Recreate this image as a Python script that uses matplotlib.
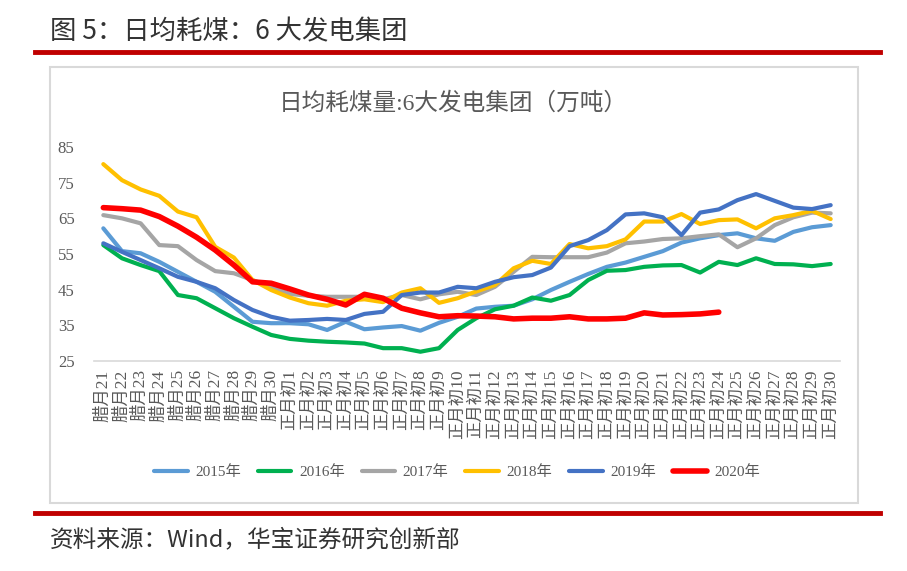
import matplotlib
matplotlib.use("Agg")
import matplotlib.pyplot as plt
from matplotlib.lines import Line2D
from matplotlib.patches import Rectangle

# Categories: 腊月21..腊月30, 正月初1..正月初30
days = [f"腊月{d}" for d in range(21, 31)] + [f"正月初{d}" for d in range(1, 31)]

y2015 = [62.2, 55.8, 55.2, 52.8, 50.0, 47.2, 44.4, 40.2, 36.0, 35.6,
         35.6, 35.3, 33.7, 36.0, 33.9, 34.4, 34.8, 33.5, 35.7, 37.4,
         39.7, 40.2, 40.5, 42.3, 44.9, 47.2, 49.4, 51.4, 52.6, 54.2,
         55.8, 58.2, 59.4, 60.3, 60.8, 59.4, 58.7, 61.2, 62.5, 63.1]
y2016 = [57.5, 53.8, 51.9, 50.2, 43.5, 42.6, 39.8, 37.0, 34.6, 32.3,
         31.2, 30.7, 30.4, 30.2, 29.9, 28.6, 28.6, 27.6, 28.6, 33.7,
         37.0, 39.5, 40.5, 42.8, 41.9, 43.5, 47.7, 50.3, 50.5, 51.4,
         51.8, 51.9, 49.8, 52.8, 51.9, 53.8, 52.2, 52.1, 51.6, 52.2]
y2017 = [65.9, 65.0, 63.6, 57.5, 57.2, 53.3, 50.2, 49.6, 47.7, 45.8,
         43.8, 43.3, 43.0, 43.0, 43.0, 42.3, 43.5, 42.3, 43.7, 44.4,
         43.5, 45.8, 50.0, 54.2, 54.1, 54.1, 54.1, 55.4, 58.0, 58.5,
         59.2, 59.4, 60.0, 60.5, 56.9, 59.4, 63.1, 65.3, 66.6, 66.4]
y2018 = [80.2, 75.7, 73.1, 71.3, 66.9, 65.3, 57.0, 54.0, 47.7, 44.9,
         42.8, 41.2, 40.5, 41.9, 42.3, 41.5, 44.2, 45.4, 41.3, 42.6,
         44.5, 46.3, 51.0, 53.1, 52.2, 57.8, 56.6, 57.2, 59.1, 64.1,
         64.1, 66.2, 63.4, 64.5, 64.7, 62.2, 65.0, 65.9, 67.1, 64.8]
y2019 = [58.0, 55.6, 53.3, 51.0, 48.6, 47.2, 45.4, 42.1, 39.3, 37.4,
         36.3, 36.5, 36.8, 36.5, 38.2, 38.8, 43.5, 44.2, 44.2, 45.8,
         45.4, 47.2, 48.5, 49.1, 51.2, 57.2, 58.9, 61.7, 66.1, 66.4,
         65.3, 60.3, 66.6, 67.5, 70.1, 71.8, 69.9, 68.0, 67.6, 68.7]
y2020 = [68.0, 67.7, 67.3, 65.5, 62.8, 59.7, 56.1, 51.9, 47.2, 46.8,
         45.2, 43.5, 42.3, 40.7, 43.7, 42.6, 39.8, 38.5, 37.4, 37.7,
         37.6, 37.4, 36.8, 37.0, 37.0, 37.4, 36.8, 36.8, 37.0, 38.5,
         37.9, 38.0, 38.2, 38.7]

series = [
    ("2015年", y2015, "#5B9BD5", 3.0),
    ("2016年", y2016, "#00B050", 3.0),
    ("2017年", y2017, "#A5A5A5", 3.0),
    ("2018年", y2018, "#FFC000", 3.0),
    ("2019年", y2019, "#4472C4", 3.0),
    ("2020年", y2020, "#FF0000", 4.0),
]

cjk = ["Noto Sans CJK SC", "DejaVu Sans"]
serif_cjk = ["Liberation Serif", "Noto Sans CJK SC"]
txt = "#595959"

fig = plt.figure(figsize=(9.07, 5.71), dpi=100)
W, H = 907, 571

# header, footer and frame
fig.text(50 / W, 1 - 32 / H, "图 5：日均耗煤：6 大发电集团", family=cjk,
         fontsize=19, color="#333333", ha="left", va="center")
fig.add_artist(Line2D([35 / W, 880 / W], [1 - 52 / H, 1 - 52 / H],
                      color="#C00000", lw=3.5, transform=fig.transFigure))
fig.add_artist(Line2D([35 / W, 880 / W], [1 - 513 / H, 1 - 513 / H],
                      color="#C00000", lw=3.5, transform=fig.transFigure))
fig.add_artist(Rectangle((50 / W, 1 - 503 / H), 808 / W, 436 / H, fill=False,
                         ec="#D9D9D9", lw=1.5, transform=fig.transFigure))
fig.text(50 / W, 1 - 540 / H, "资料来源：Wind，华宝证券研究创新部", family=cjk,
         fontsize=17, color="#333333", ha="left", va="center")

# chart title
fig.text(453 / W, 1 - 103 / H, "日均耗煤量:6大发电集团（万吨）", family=serif_cjk,
         fontsize=17, color=txt, ha="center", va="center")

ax = fig.add_axes([94 / W, 1 - 361 / H, 746 / W, 214 / H])
x = list(range(len(days)))
handles = []
for name, vals, col, lw in series:
    h, = ax.plot(x[:len(vals)], vals, color=col, lw=lw, label=name,
                 solid_capstyle="round", solid_joinstyle="round")
    handles.append(h)

ax.set_xlim(-0.5, len(days) - 0.5)
ax.set_ylim(25, 85)
ax.set_yticks(range(25, 86, 10))
ax.set_xticks(x)
ax.set_xticklabels(days, rotation=90, va="top", ha="center")
for lab in ax.get_xticklabels():
    lab.set_family(serif_cjk)
    lab.set_fontsize(12.5)
    lab.set_color(txt)
for lab in ax.get_yticklabels():
    lab.set_family("Liberation Serif")
    lab.set_fontsize(12)
    lab.set_color(txt)
ax.tick_params(length=0, pad=6)
ax.tick_params(axis="y", pad=14)
for s in ["top", "right", "left"]:
    ax.spines[s].set_visible(False)
ax.spines["bottom"].set_color("#D9D9D9")
ax.spines["bottom"].set_linewidth(1.2)

fig.legend(handles=handles, loc="center", bbox_to_anchor=(457 / W, 1 - 472 / H),
           ncol=6, frameon=False, prop={"family": serif_cjk, "size": 11},
           handlelength=2.2, columnspacing=1.1, handletextpad=0.5,
           labelcolor=txt)

fig.savefig("out.png", dpi=100)
